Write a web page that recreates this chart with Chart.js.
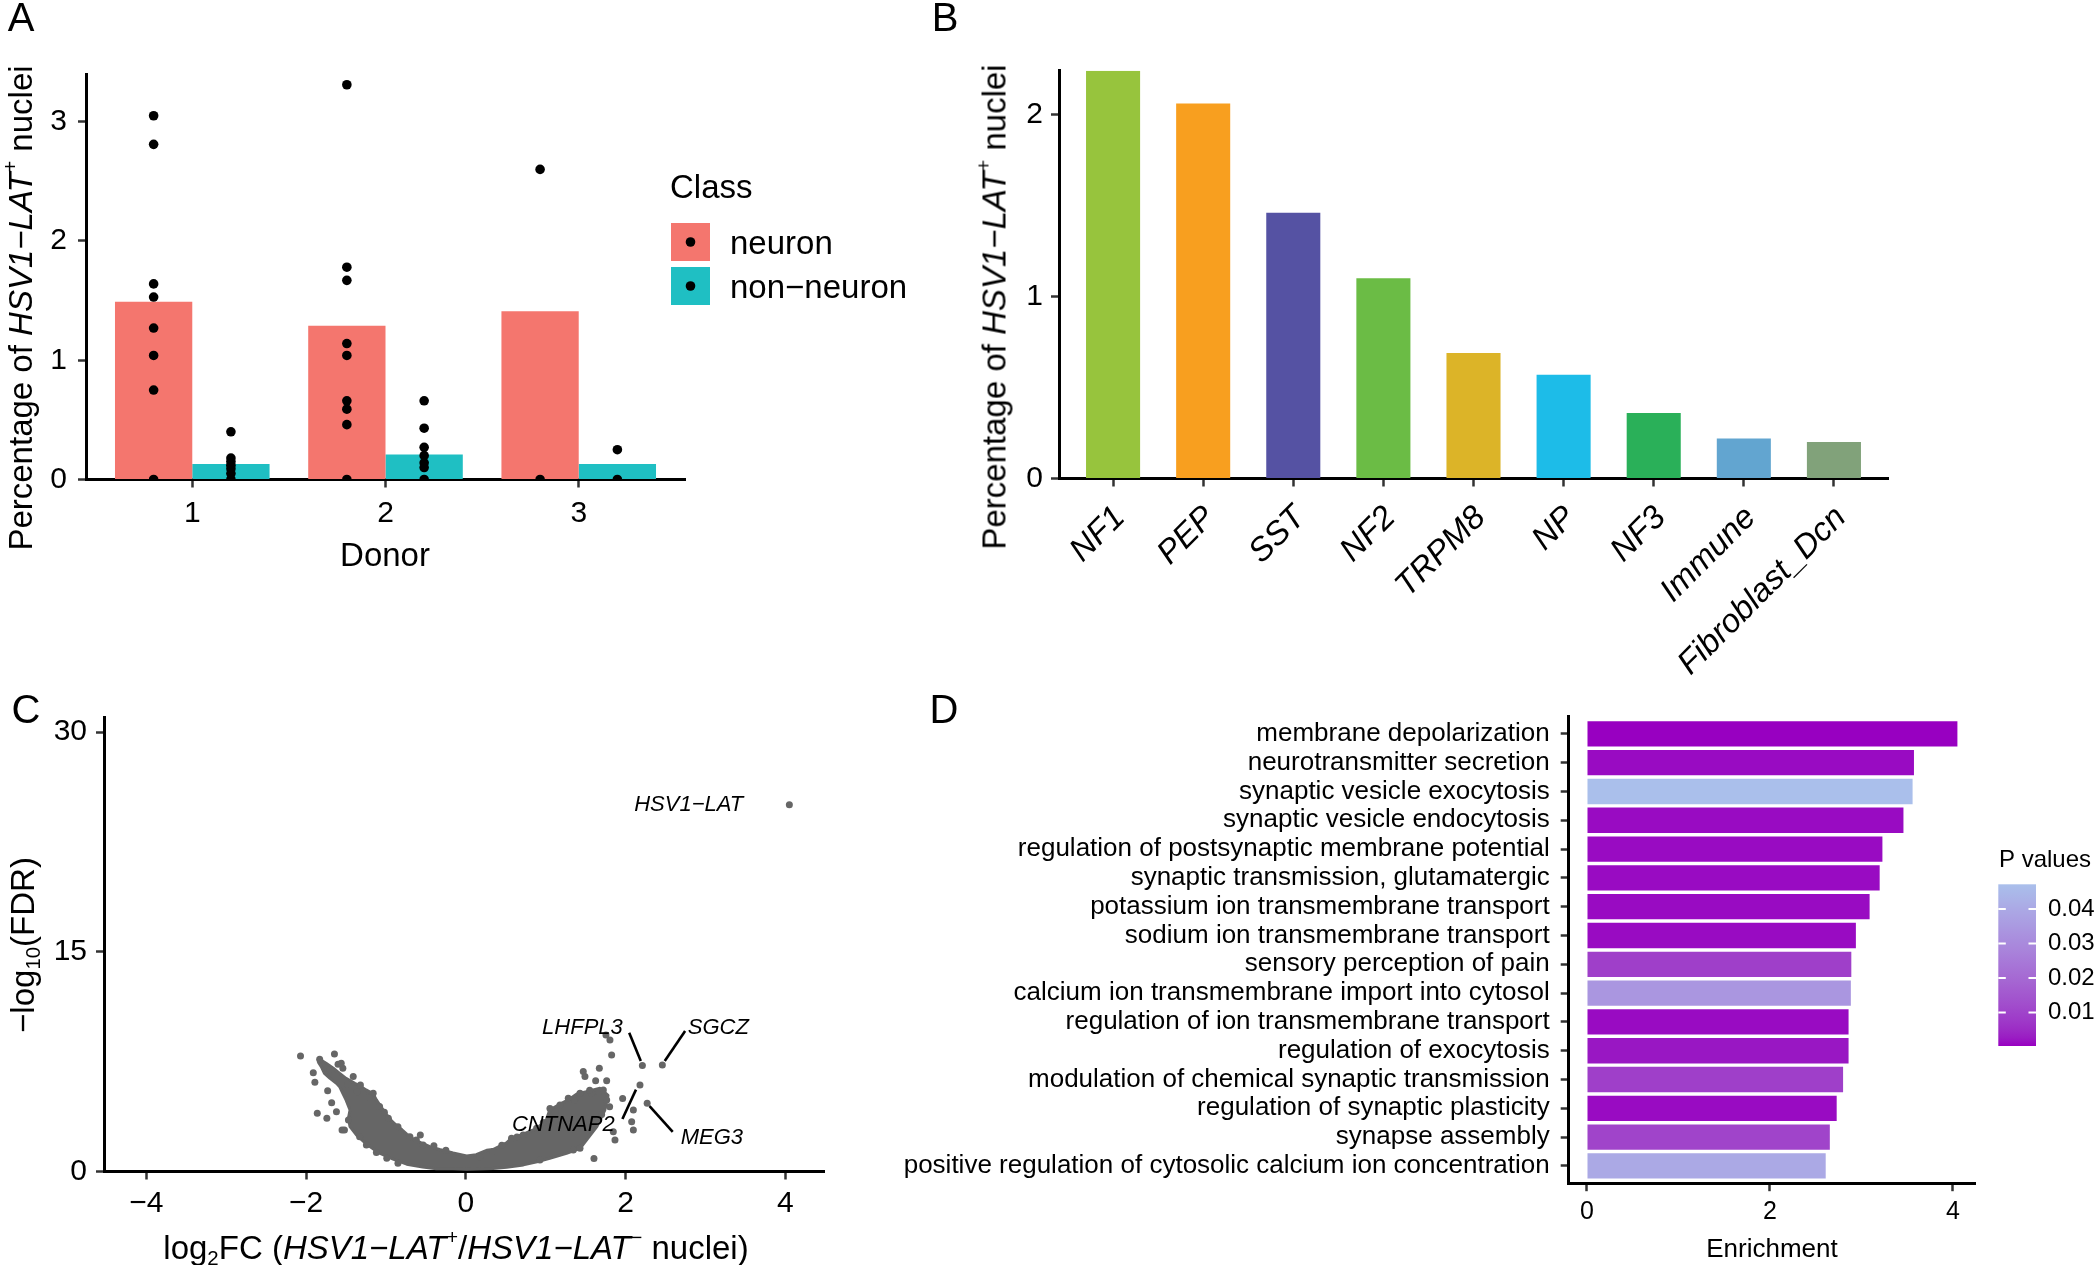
<!DOCTYPE html>
<html lang="en">
<head>
<meta charset="UTF-8">
<title>HSV1-LAT+ nuclei</title>
<script src="https://cdn.jsdelivr.net/npm/chart.js@4.4.0/dist/chart.umd.min.js"></script>
<style>
  body { margin: 0; background: #fff; }
  #fig { position: relative; width: 2100px; height: 1265px; overflow: hidden; background: #fff;
         font-family: "Liberation Sans", Arial, sans-serif; color: #000; }
  canvas { position: absolute; }
  .t { position: absolute; white-space: nowrap; line-height: 1; transform: translate(-50%, -50%); }
  .r { transform: translate(-50%, -50%) rotate(-90deg); }
  .letter { font-size: 40px; }
  .ttl { font-size: 33px; }
  sup { font-size: 60%; vertical-align: 0.75em; line-height: 0; }
  sub { font-size: 62%; vertical-align: -0.3em; line-height: 0; }
</style>
</head>
<body>
<div id="fig">
  <canvas id="chartA" width="940" height="600" style="left:0;top:0"></canvas>
  <canvas id="chartB" width="1160" height="690" style="left:940px;top:0"></canvas>
  <canvas id="chartC" width="880" height="575" style="left:0;top:690px"></canvas>
  <canvas id="chartD" width="1220" height="575" style="left:880px;top:690px"></canvas>

  <div class="t letter" style="left:21px;top:17px">A</div>
  <div class="t letter" style="left:945px;top:17px">B</div>
  <div class="t letter" style="left:26px;top:709px">C</div>
  <div class="t letter" style="left:944px;top:709px">D</div>

  <div class="t ttl" style="left:385px;top:554px">Donor</div>
  <div class="t r ttl" style="left:20px;top:308px">Percentage of <i>HSV1&minus;LAT</i><sup>+</sup> nuclei</div>
  <div class="t r ttl" style="left:994px;top:307px">Percentage of <i>HSV1&minus;LAT</i><sup>+</sup> nuclei</div>
  <div class="t r ttl" style="left:22px;top:945px">&minus;log<sub>10</sub>(FDR)</div>
  <div class="t ttl" style="left:456px;top:1247px">log<sub>2</sub>FC (<i>HSV1&minus;LAT</i><sup>+</sup>/<i>HSV1&minus;LAT</i><sup>&minus;</sup> nuclei)</div>
  <div class="t" style="left:1772px;top:1248px;font-size:26px">Enrichment</div>
</div>

<script>
// ---- panel A: percentage per donor ----
const donors = [1, 2, 3];
const neuronPct = [1.49, 1.29, 1.41];
const nonNeuronPct = [0.13, 0.21, 0.13];
const neuronDots = [
  [3.05, 2.81, 1.64, 1.53, 1.27, 1.04, 0.75, 0],
  [3.31, 1.78, 1.67, 1.14, 1.04, 0.66, 0.59, 0.46, 0],
  [2.60, 0]
];
const nonNeuronDots = [
  [0.40, 0.18, 0.15, 0.12, 0.09, 0.05, 0],
  [0.66, 0.43, 0.27, 0.20, 0.14, 0.10, 0],
  [0.25, 0]
];
const classNames = ['neuron', 'non\u2212neuron'];
const classColors = ['#F4766E', '#1FBFC3'];

// ---- panel B: percentage per cell type ----
const cellTypes = ['NF1', 'PEP', 'SST', 'NF2', 'TRPM8', 'NP', 'NF3', 'Immune', 'Fibroblast_Dcn'];
const cellPct = [2.24, 2.06, 1.46, 1.10, 0.69, 0.57, 0.36, 0.22, 0.20];
const cellColors = ['#97C43D', '#F89F1F', '#5552A3', '#6BBC45', '#DCB428', '#1DBCE8', '#2AB059', '#62A5D0', '#81A27A'];

// ---- panel C: volcano ----
// outline of the dense cloud of genes (log2FC, -log10 FDR)
const cloudX = [-1.85, -1.75, -1.66, -1.58, -1.50, -1.39, -1.31, -1.25, -1.16, -1.12, -1.06, -0.99, -0.93, -0.87,
  -0.80, -0.74, -0.66, -0.56, -0.45, -0.33, -0.16, 0.01, 0.13, 0.26, 0.34, 0.51, 0.57, 0.72, 0.89, 1.01, 1.05,
  1.18, 1.30, 1.39, 1.51, 1.68, 1.78, 1.74, 1.64, 1.51, 1.43, 1.26, 1.05, 0.89, 0.72, 0.51, 0.34, 0.01, -0.16,
  -0.37, -0.54, -0.74, -0.91, -1.08, -1.25, -1.37, -1.45, -1.47, -1.45, -1.50, -1.54, -1.58, -1.62, -1.70,
  -1.77, -1.81, -1.85];
const cloudY = [7.73, 7.39, 7.05, 6.70, 6.36, 6.02, 5.79, 5.57, 5.30, 4.89, 4.40, 3.86, 3.45, 3.15,
  2.85, 2.55, 2.22, 1.95, 1.70, 1.50, 1.26, 1.06, 1.15, 1.45, 1.50, 1.95, 2.27, 2.55, 2.95, 3.55, 4.20,
  4.60, 4.95, 5.30, 5.45, 5.68, 5.20, 4.20, 3.06, 2.15, 1.58, 1.24, 0.90, 0.67, 0.45, 0.29, 0.20, 0.15, 0.18,
  0.18, 0.30, 0.50, 0.85, 1.25, 1.90, 2.50, 3.06, 3.63, 4.20, 4.89, 5.34, 5.79, 6.02, 6.36,
  6.70, 7.16, 7.50];
// individual genes around the cloud
const geneX = [-2.07, -1.645, -1.60, -1.54, -1.41, -1.91, -1.89, -1.73, -1.68, -1.62, -1.86, -1.74, -1.55, -0.57,
  -1.83, -1.56, -1.32, -1.16, -1.08, -0.97, -0.85, -0.70, -0.535, -1.47, -1.52, -1.33, -1.245, -1.12, -0.99, -0.85,
  -1.70, -1.48, -1.36, -1.21, -1.02, -0.62, -0.40, -0.25,
  1.053, 1.282, 1.429, 1.575, 1.178, 0.572, 0.718, 0.342, 0.175, 0.886, 1.345, 1.429, 0.927,
  0.45, 0.64, 0.97, 1.12, 1.36, 1.55, 1.66, 1.70,
  1.470, 1.491, 1.671, 1.625, 1.763, 1.721, 1.963, 2.097, 2.076, 2.097, 1.867, 1.846, 1.604, 1.763, 1.80,
  1.754, 1.804, 1.825,
  4.05, 2.21, 2.46, 2.18, 2.27];
const geneY = [7.89, 8.03, 7.32, 7.05, 6.48, 6.75, 6.09, 5.52, 4.70, 4.08, 3.97, 3.63, 2.83, 2.49,
  7.66, 7.39, 5.91, 5.34, 4.43, 3.63, 3.06, 2.38, 1.81, 3.52, 2.84, 2.38, 1.81, 1.29, 0.90, 0.56,
  6.95, 5.95, 5.45, 5.05, 4.05, 2.15, 1.75, 1.45,
  4.31, 5.00, 5.34, 5.34, 4.54, 2.27, 2.49, 1.36, 1.00, 2.95, 1.47, 1.58, 0.78,
  1.80, 2.35, 3.35, 4.05, 4.85, 5.55, 5.45, 3.90,
  6.82, 6.48, 7.05, 6.20, 6.20, 5.57, 4.99, 4.20, 3.40, 2.84, 2.15, 2.72, 0.88, 4.88, 4.42,
  9.32, 8.98, 7.96,
  25.05, 7.23, 7.27, 5.91, 4.66];
const geneNames = ['HSV1\u2212LAT', 'LHFPL3', 'SGCZ', 'CNTNAP2', 'MEG3'];
const geneTextX = [2.79, 1.46, 3.16, 1.22, 3.08];
const geneTextY = [25.0, 9.80, 9.80, 3.21, 2.29];
// leader lines (LHFPL3, SGCZ, CNTNAP2, MEG3)
const leadX1 = [2.045, 2.745, 1.96, 2.30];
const leadY1 = [9.47, 9.60, 3.59, 4.46];
const leadX2 = [2.19, 2.49, 2.13, 2.59];
const leadY2 = [7.54, 7.54, 5.59, 2.70];

// ---- panel D: GO enrichment ----
const goTerms = ['membrane depolarization', 'neurotransmitter secretion', 'synaptic vesicle exocytosis',
  'synaptic vesicle endocytosis', 'regulation of postsynaptic membrane potential',
  'synaptic transmission, glutamatergic', 'potassium ion transmembrane transport',
  'sodium ion transmembrane transport', 'sensory perception of pain',
  'calcium ion transmembrane import into cytosol', 'regulation of ion transmembrane transport',
  'regulation of exocytosis', 'modulation of chemical synaptic transmission',
  'regulation of synaptic plasticity', 'synapse assembly',
  'positive regulation of cytosolic calcium ion concentration'];
const enrichment = [4.05, 3.575, 3.56, 3.46, 3.23, 3.20, 3.09, 2.94, 2.89, 2.885, 2.86, 2.86, 2.80, 2.73, 2.655, 2.61];
const pValues = [0.0003, 0.001, 0.0472, 0.001, 0.001, 0.001, 0.001, 0.001, 0.009, 0.034, 0.001, 0.002, 0.009, 0.001, 0.010, 0.040];
const pTicks = [0.01, 0.02, 0.03, 0.04];
const pLow = '#9800C1', pHigh = '#AABFEB';

// ---------- helpers ----------
Chart.defaults.font.family = "'Liberation Sans', Arial, sans-serif";
Chart.defaults.color = '#000';
Chart.defaults.animation = false;
Chart.defaults.plugins.legend.display = false;
Chart.defaults.plugins.tooltip.enabled = false;

const FONT = "'Liberation Sans', Arial, sans-serif";
const fixTicks = vals => s => { s.ticks = vals.map(v => ({ value: v })); };

function axis(opts) {
  return Object.assign({
    type: 'linear',
    offset: false,
    border: { display: true, color: '#000', width: 3 },
    grid: { display: true, offset: false, drawOnChartArea: false, drawTicks: true,
            tickLength: 8, tickWidth: 2.5, tickColor: '#333' }
  }, opts);
}

// colour ramp in CIE Lab, like ggplot's gradient
function hexToRgb(h) { return [1, 3, 5].map(i => parseInt(h.slice(i, i + 2), 16)); }
function toLin(c) { c /= 255; return c <= 0.04045 ? c / 12.92 : Math.pow((c + 0.055) / 1.055, 2.4); }
function fromLin(c) {
  c = c <= 0.0031308 ? 12.92 * c : 1.055 * Math.pow(c, 1 / 2.4) - 0.055;
  return Math.round(Math.max(0, Math.min(1, c)) * 255);
}
function rgbToLab(rgb) {
  const [r, g, b] = rgb.map(toLin);
  const X = (0.4124 * r + 0.3576 * g + 0.1805 * b) / 0.95047;
  const Y = 0.2126 * r + 0.7152 * g + 0.0722 * b;
  const Z = (0.0193 * r + 0.1192 * g + 0.9505 * b) / 1.08883;
  const f = t => t > 0.008856 ? Math.cbrt(t) : 7.787 * t + 16 / 116;
  return [116 * f(Y) - 16, 500 * (f(X) - f(Y)), 200 * (f(Y) - f(Z))];
}
function labToRgb(lab) {
  const fy = (lab[0] + 16) / 116, fx = fy + lab[1] / 500, fz = fy - lab[2] / 200;
  const fi = t => t * t * t > 0.008856 ? t * t * t : (t - 16 / 116) / 7.787;
  const X = fi(fx) * 0.95047, Y = fi(fy), Z = fi(fz) * 1.08883;
  const r = 3.2406 * X - 1.5372 * Y - 0.4986 * Z;
  const g = -0.9689 * X + 1.8758 * Y + 0.0415 * Z;
  const b = 0.0557 * X - 0.2040 * Y + 1.0570 * Z;
  return 'rgb(' + [r, g, b].map(fromLin).join(',') + ')';
}
const labLow = rgbToLab(hexToRgb(pLow)), labHigh = rgbToLab(hexToRgb(pHigh));
const pMin = Math.min(...pValues), pMax = Math.max(...pValues);
function pColor(p) {
  const t = (p - pMin) / (pMax - pMin);
  return labToRgb(labLow.map((v, i) => v + (labHigh[i] - v) * t));
}

// ---------- A ----------
const dodge = 0.2;
function dotData(groups, shift) {
  const out = [];
  groups.forEach((vals, i) => vals.forEach(v => out.push({ x: donors[i] + shift, y: v })));
  return out;
}

const legendA = {
  id: 'legendA',
  afterDraw(chart) {
    const ctx = chart.ctx;
    ctx.save();
    ctx.fillStyle = '#000';
    ctx.textBaseline = 'middle';
    ctx.font = '33px ' + FONT;
    ctx.fillText('Class', 670, 189);
    classNames.forEach((name, i) => {
      const top = 223 + i * 44;
      ctx.fillStyle = classColors[i];
      ctx.fillRect(671, top, 39, 38);
      ctx.fillStyle = '#000';
      ctx.beginPath();
      ctx.arc(690.5, top + 19, 4.8, 0, Math.PI * 2);
      ctx.fill();
      ctx.fillText(name, 730, top + 22);
    });
    ctx.restore();
  }
};

new Chart(document.getElementById('chartA'), {
  type: 'bar',
  data: {
    datasets: [
      { label: classNames[0], data: donors.map((d, i) => ({ x: d, y: neuronPct[i] })),
        backgroundColor: classColors[0], categoryPercentage: 0.8, barPercentage: 1, order: 2 },
      { label: classNames[1], data: donors.map((d, i) => ({ x: d, y: nonNeuronPct[i] })),
        backgroundColor: classColors[1], categoryPercentage: 0.8, barPercentage: 1, order: 2 },
      { type: 'scatter', data: dotData(neuronDots, -dodge), backgroundColor: '#000',
        pointRadius: 4.8, borderWidth: 0, order: 1 },
      { type: 'scatter', data: dotData(nonNeuronDots, dodge), backgroundColor: '#000',
        pointRadius: 4.8, borderWidth: 0, order: 1 }
    ]
  },
  options: {
    responsive: false,
    layout: { padding: { top: 74, right: 255, left: 0, bottom: 0 } },
    scales: {
      x: axis({ min: 0.45, max: 3.55, afterBuildTicks: fixTicks(donors),
        afterFit: s => { s.height = 120.5; },
        ticks: { font: { size: 30 }, padding: 8, autoSkip: false } }),
      y: axis({ min: 0, max: 3.4, afterBuildTicks: fixTicks([0, 1, 2, 3]),
        afterFit: s => { s.width = 86; },
        ticks: { font: { size: 30 }, padding: 11 } })
    }
  },
  plugins: [legendA]
});

// ---------- B ----------
new Chart(document.getElementById('chartB'), {
  type: 'bar',
  data: {
    datasets: [{ data: cellTypes.map((c, i) => ({ x: i + 1, y: cellPct[i] })),
      backgroundColor: cellColors, categoryPercentage: 1, barPercentage: 0.6 }]
  },
  options: {
    responsive: false,
    layout: { padding: { top: 70.7, right: 212, left: 0, bottom: 0 } },
    scales: {
      x: axis({ min: 0.4, max: 9.6, afterBuildTicks: fixTicks(cellTypes.map((c, i) => i + 1)),
        afterFit: s => { s.height = 211.5; },
        ticks: { font: { size: 33, style: 'italic' }, padding: 12, labelOffset: 7, autoSkip: false,
                 minRotation: 45, maxRotation: 45, callback: v => cellTypes[v - 1] } }),
      y: axis({ min: 0, max: 2.24, afterBuildTicks: fixTicks([0, 1, 2]),
        afterFit: s => { s.width = 119; },
        ticks: { font: { size: 30 }, padding: 8 } })
    }
  }
});

// ---------- C ----------
const geneLabels = {
  id: 'geneLabels',
  afterDatasetsDraw(chart) {
    const { ctx, scales: { x, y } } = chart;
    ctx.save();
    ctx.font = 'italic 22px ' + FONT;
    ctx.fillStyle = '#000';
    ctx.textAlign = 'center';
    ctx.textBaseline = 'middle';
    geneNames.forEach((g, i) => ctx.fillText(g, x.getPixelForValue(geneTextX[i]), y.getPixelForValue(geneTextY[i])));
    ctx.restore();
  }
};

const leaders = leadX1.map((v, i) => ({
  type: 'line', data: [{ x: v, y: leadY1[i] }, { x: leadX2[i], y: leadY2[i] }],
  borderColor: '#000', borderWidth: 2.6, pointRadius: 0, fill: false, order: 1
}));

new Chart(document.getElementById('chartC'), {
  type: 'scatter',
  data: {
    datasets: [
      { type: 'line', data: cloudX.map((v, i) => ({ x: v, y: cloudY[i] })), fill: 'shape',
        backgroundColor: '#666666', borderColor: '#666666', borderWidth: 3, borderJoinStyle: 'round',
        pointRadius: 0, tension: 0, order: 3 },
      { data: geneX.map((v, i) => ({ x: v, y: geneY[i] })), backgroundColor: '#666666',
        pointRadius: 3.5, borderWidth: 0, order: 2 },
      ...leaders
    ]
  },
  options: {
    responsive: false,
    layout: { padding: { top: 27.5, right: 55.5, left: 0, bottom: 0 } },
    scales: {
      x: axis({ min: -4.53, max: 4.49, afterBuildTicks: fixTicks([-4, -2, 0, 2, 4]),
        afterFit: s => { s.height = 93.5; },
        ticks: { font: { size: 30 }, padding: 6, callback: v => v < 0 ? '\u2212' + Math.abs(v) : String(v) } }),
      y: axis({ min: 0, max: 31, afterBuildTicks: fixTicks([0, 15, 30]),
        afterFit: s => { s.width = 104; },
        ticks: { font: { size: 30 }, padding: 9 } })
    }
  },
  plugins: [geneLabels]
});

// ---------- D ----------
const colorbarD = {
  id: 'colorbarD',
  afterDraw(chart) {
    const ctx = chart.ctx;
    const left = 1118.3, w = 37.7, top = 194.3, bottom = 356;
    const yOf = p => bottom - (p - pMin) / (pMax - pMin) * (bottom - top);
    ctx.save();
    const grad = ctx.createLinearGradient(0, bottom, 0, top);
    for (let k = 0; k <= 20; k++) grad.addColorStop(k / 20, pColor(pMin + (pMax - pMin) * k / 20));
    ctx.fillStyle = grad;
    ctx.fillRect(left, top, w, bottom - top);
    ctx.strokeStyle = '#fff';
    ctx.lineWidth = 2;
    ctx.fillStyle = '#000';
    ctx.font = '24px ' + FONT;
    ctx.textBaseline = 'middle';
    pTicks.forEach(p => {
      const y = yOf(p);
      ctx.beginPath();
      ctx.moveTo(left, y); ctx.lineTo(left + 7.5, y);
      ctx.moveTo(left + w - 7.5, y); ctx.lineTo(left + w, y);
      ctx.stroke();
      ctx.fillText(p.toFixed(2), 1168, y);
    });
    ctx.fillText('P values', 1119, 170);
    ctx.restore();
  }
};

new Chart(document.getElementById('chartD'), {
  type: 'bar',
  data: {
    datasets: [{ data: goTerms.map((t, i) => ({ x: enrichment[i], y: i + 1 })),
      backgroundColor: pValues.map(pColor), categoryPercentage: 1, barPercentage: 0.88 }]
  },
  options: {
    indexAxis: 'y',
    responsive: false,
    layout: { padding: { top: 19, right: 124.3, left: 0, bottom: 0 } },
    scales: {
      x: axis({ min: -0.2, max: 4.25, afterBuildTicks: fixTicks([0, 2, 4]),
        afterFit: s => { s.height = 81.8; },
        ticks: { font: { size: 25 }, padding: 6 } }),
      y: axis({ min: 0.4, max: 16.6, reverse: true, afterBuildTicks: fixTicks(goTerms.map((t, i) => i + 1)),
        afterFit: s => { s.width = 688.7; },
        ticks: { font: { size: 26 }, padding: 11, autoSkip: false, callback: v => goTerms[v - 1] } })
    }
  },
  plugins: [colorbarD]
});
</script>
</body>
</html>
